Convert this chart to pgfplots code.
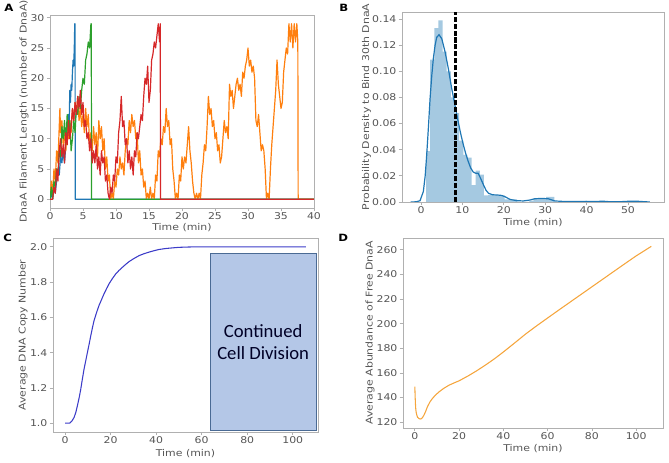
\documentclass[border=0pt]{standalone}
\usepackage{pgfplots}
\pgfplotsset{compat=1.18}
\usepackage{fontspec}
\setmainfont{DejaVu Sans}[FakeStretch=1.17]
\newfontfamily\carlito{Carlito}
\definecolor{tabblue}{HTML}{1F77B4}
\definecolor{taborange}{HTML}{FF7F0E}
\definecolor{tabgreen}{HTML}{2CA02C}
\definecolor{tabred}{HTML}{D62728}
\definecolor{histc}{HTML}{A5C9E1}
\definecolor{spinegray}{HTML}{B0B0B0}
\definecolor{labgray}{HTML}{555555}
\definecolor{boxfill}{HTML}{B4C7E7}
\definecolor{boxedge}{HTML}{4A6A94}
\definecolor{cblue}{HTML}{3C3CC8}
\definecolor{dorange}{HTML}{F5A53C}
\pgfplotsset{refstyle/.style={scale only axis,
  axis line style={spinegray, line width=0.7pt},
  tick style={spinegray, line width=0.6pt},
  tick align=outside, major tick length=2.5pt,
  xtick pos=bottom, ytick pos=left,
  ticklabel style={font=\fontsize{7}{8.5}\selectfont, text=labgray},
  xticklabel style={inner sep=1pt},
  yticklabel style={inner sep=1.5pt},
  label style={font=\fontsize{7}{8.5}\selectfont, text=labgray, inner sep=1pt},
  /pgf/number format/assume math mode=true,
  scaled ticks=false}}
\begin{document}
\begin{tikzpicture}
\path[use as bounding box] (0,0) rectangle (501.75pt,347.25pt);
% ---------------- A ----------------
\begin{axis}[refstyle, at={(37.5pt,191.25pt)}, anchor=south west,
  width=198pt, height=144.75pt,
  xmin=0, xmax=40, ymin=-1.45, ymax=30.45,
  xtick={0,5,...,40}, ytick={0,5,...,30},
  xlabel={Time (min)}, ylabel={DnaA Filament Length (number of DnaA)},
  xlabel style={at={(axis description cs:0.5,-0.119)}, anchor=base},
  ylabel style={at={(axis description cs:-0.098,0.5)}, anchor=center},
  every axis plot/.append style={line width=0.9pt, line join=round}]
\addplot[tabblue] coordinates {(0,0)(0.2,1)(0.4,0)(0.6,2)(0.8,1)(1.0,3)(1.2,5)(1.4,4)(1.6,7)(1.8,6)(2.0,8)(2.2,6)(2.4,9)(2.6,11)(2.8,14)(2.9,12)(3.0,18)(3.1,16)(3.2,19)(3.3,18)(3.4,21)(3.5,23)(3.6,22)(3.7,26)(3.75,29)(3.8,29)(3.82,0)(40,0)};
\addplot[taborange] coordinates {(0,0)(0.2,3)(0.4,1)(0.6,5)(0.8,3)(1.0,8)(1.2,6)(1.4,12)(1.5,15)(1.6,11)(1.8,13)(2.0,9)(2.2,11)(2.4,8)(2.6,12)(2.8,10)(3.0,13)(3.2,11)(3.4,15)(3.6,13)(3.8,16)(4.0,14)(4.2,17)(4.4,13)(4.6,15)(4.8,12)(5.0,14)(5.2,11)(5.4,15)(5.6,12)(5.8,14)(6.0,9)(6.2,11)(6.4,8)(6.6,12)(6.8,9)(7.0,11)(7.2,7)(7.4,13)(7.6,10)(7.8,12)(8.0,8)(8.2,10)(8.4,5)(8.6,7)(8.8,3)(9.0,4)(9.2,0)(9.4,1)(9.6,0)(9.8,3)(10.0,2)(10.2,5)(10.4,4)(10.6,7)(10.8,5)(11.0,6)(11.2,4)(11.4,8)(11.6,10)(11.8,9)(12.0,13)(12.2,11)(12.4,14)(12.6,12)(12.8,13)(13.0,10)(13.2,11)(13.4,6)(13.6,8)(13.8,4)(14.0,5)(14.2,2)(14.4,3)(14.6,0)(14.8,1)(15.0,0)(15.2,2)(15.4,0)(15.6,1)(15.8,0)(16.0,4)(16.2,3)(16.4,8)(16.6,7)(16.8,10)(17.0,9)(17.2,12)(17.4,11)(17.6,15)(17.8,12)(18.0,13)(18.2,9)(18.4,10)(18.6,5)(18.8,3)(19.0,0)(19.2,1)(19.4,0)(19.6,4)(19.8,3)(20.0,7)(20.2,5)(20.4,7)(20.6,6)(20.8,9)(21.0,12)(21.2,8)(21.4,6)(21.6,3)(21.8,1)(22.0,0)(22.2,1)(22.4,0)(22.6,1)(22.8,0)(23.0,4)(23.2,6)(23.4,9)(23.6,8)(23.8,12)(24.0,17)(24.2,14)(24.4,15)(24.6,12)(24.8,13)(25.0,10)(25.2,11)(25.4,8)(25.6,9)(25.8,6)(26.0,7)(26.2,10)(26.4,13)(26.6,11)(26.8,12)(27.0,10)(27.2,19)(27.4,17)(27.6,18)(27.8,15)(28.0,17)(28.2,19)(28.4,20)(28.6,18)(28.8,19)(29.0,17)(29.2,21)(29.4,20)(29.6,22)(29.8,23)(30.0,25)(30.2,22)(30.4,23)(30.6,21)(30.8,22)(31.0,20)(31.2,13)(31.4,12)(31.6,14)(31.8,11)(32.0,8)(32.2,9)(32.4,8)(32.6,5)(32.8,0)(33.0,1)(33.2,0)(33.4,5)(33.6,9)(33.8,12)(34.0,15)(34.2,18)(34.4,23)(34.6,19)(34.8,17)(35.0,15)(35.2,16)(35.4,21)(35.6,23)(35.8,25)(36.0,24)(36.2,29)(36.4,26)(36.6,29)(36.8,25)(37.0,29)(37.2,26)(37.4,29)(37.55,26)(37.6,0)(40,0)};
\addplot[tabgreen] coordinates {(0,0)(0.2,2)(0.4,0)(0.6,3)(0.8,2)(1.0,5)(1.2,4)(1.4,8)(1.6,7)(1.8,12)(2.0,10)(2.2,13)(2.4,9)(2.6,14)(2.8,11)(3.0,13)(3.2,8)(3.4,10)(3.6,13)(3.8,11)(4.0,15)(4.2,14)(4.4,17)(4.6,15)(4.8,18)(5.0,20)(5.2,19)(5.4,23)(5.6,24)(5.8,26)(6.0,25)(6.2,29)(6.25,29)(6.3,0)(40,0)};
\addplot[tabred] coordinates {(0,0)(0.4,0)(0.6,2)(0.8,1)(1.0,5)(1.2,3)(1.4,8)(1.6,10)(1.8,7)(2.0,9)(2.2,6)(2.4,11)(2.6,9)(2.8,13)(3.0,10)(3.2,12)(3.4,15)(3.6,13)(3.8,16)(4.0,14)(4.2,17)(4.4,15)(4.6,18)(4.8,14)(5.0,16)(5.2,12)(5.4,13)(5.6,10)(5.8,11)(6.0,8)(6.2,10)(6.4,6)(6.6,8)(6.8,6)(7.0,9)(7.2,5)(7.4,7)(7.6,4)(7.8,8)(8.0,6)(8.2,7)(8.4,3)(8.6,4)(8.8,1)(9.0,0)(9.2,2)(9.4,1)(9.6,4)(9.8,3)(10.0,7)(10.2,6)(10.4,11)(10.6,13)(10.8,17)(11.0,12)(11.2,13)(11.4,9)(11.6,10)(11.8,6)(12.0,8)(12.2,5)(12.4,7)(12.6,4)(12.8,8)(13.0,7)(13.2,11)(13.4,10)(13.6,12)(13.8,14)(14.0,13)(14.2,17)(14.4,20)(14.6,19)(14.8,22)(15.0,16)(15.2,18)(15.4,23)(15.6,24)(15.8,26)(16.0,25)(16.2,27)(16.4,29)(16.6,26)(16.7,29)(16.75,0)(40,0)};
\end{axis}
% ---------------- B ----------------
\begin{axis}[refstyle, at={(301.5pt,195.75pt)}, anchor=south west,
  width=196.5pt, height=142.5pt,
  xmin=-4.6, xmax=58.7, ymin=0, ymax=0.1454,
  xtick={0,10,...,50}, ytick={0,0.02,...,0.14},
  yticklabel style={/pgf/number format/.cd, fixed, fixed zerofill, precision=2},
  xlabel={Time (min)}, ylabel={Probability Density to Bind 30th DnaA},
  xlabel style={at={(axis description cs:0.5,-0.126)}, anchor=base},
  ylabel style={at={(axis description cs:-0.135,0.5)}, anchor=center}]
\addplot[ybar interval, fill=histc, draw=none] coordinates {(1.2,0.039)(2.2,0.109)(3.2,0.133)(4.2,0.139)(5.2,0.115)(6.2,0.100)(7.2,0.080)(8.2,0.068)(9.2,0.047)(10.2,0.036)(11.2,0.034)(12.2,0.013)(13.2,0.024)(14.2,0.021)(15.2,0.005)(16.2,0.0055)(17.2,0.0055)(18.2,0.005)(19.2,0.005)(20.2,0.002)(21.2,0.0015)(22.2,0.002)(23.2,0)(26.2,0.001)(27.2,0.003)(28.2,0.003)(29.2,0.003)(30.2,0.004)(31.2,0.004)(32.2,0)};
\addplot[tabblue, line width=0.9pt] coordinates {(-2.5,0)(-1.8,0)(-1,0.0003)(-0.24,0.001)(0.56,0.008)(1.0,0.02)(1.37,0.036)(1.8,0.058)(2.18,0.079)(2.6,0.097)(2.98,0.110)(3.4,0.120)(3.79,0.126)(4.35,0.128)(5.0,0.125)(5.8,0.115)(6.6,0.102)(7.4,0.087)(8.2,0.074)(9.0,0.061)(9.6,0.052)(10.2,0.044)(10.8,0.037)(11.4,0.031)(12.0,0.026)(12.6,0.023)(13.2,0.022)(13.8,0.022)(14.4,0.018)(15.1,0.013)(15.7,0.009)(16.3,0.0067)(17.3,0.0055)(18.3,0.0054)(19.5,0.005)(20.3,0.004)(21.5,0.002)(23.1,0.001)(24.7,0.0008)(26.3,0.0015)(27.5,0.0025)(29,0.0027)(30.7,0.0025)(32.3,0.0008)(35.1,0.0003)(38,0.0003)(39.9,0.0005)(41.5,0.0003)(44,0.0006)(45.6,0.0002)(48,0.0002)(50.5,0.0006)(52.1,0.0006)(54,0.0002)(55.3,0)};
\addplot[black, line width=1.8pt, dash pattern=on 3.8pt off 1.4pt] coordinates {(8.3,0)(8.3,0.1454)};
\end{axis}
% ---------------- C ----------------
\begin{axis}[refstyle, at={(39.75pt,23.25pt)}, anchor=south west,
  width=198.75pt, height=145.5pt,
  xmin=-5.3, xmax=111.1, ymin=0.95, ymax=2.05,
  xtick={0,20,...,100}, ytick={1.0,1.2,...,2.0},
  yticklabel style={/pgf/number format/.cd, fixed, fixed zerofill, precision=1},
  xlabel={Time (min)}, ylabel={Average DNA Copy Number},
  xlabel style={at={(axis description cs:0.5,-0.124)}, anchor=base},
  ylabel style={at={(axis description cs:-0.113,0.5)}, anchor=center}]
\addplot[cblue, line width=0.8pt] coordinates {(0,1.0)(1,1.0)(2.05,1.0)(3,1.012)(3.95,1.032)(4.7,1.06)(5.4,1.098)(6.2,1.145)(6.9,1.193)(7.6,1.25)(8.35,1.307)(9.1,1.355)(9.8,1.40)(10.6,1.45)(11.3,1.496)(12,1.54)(12.7,1.58)(13.8,1.626)(14.9,1.667)(16,1.70)(17.1,1.733)(18.2,1.762)(19.3,1.79)(20.8,1.82)(22.3,1.847)(23.7,1.866)(25.2,1.884)(26.6,1.90)(28.1,1.916)(30.3,1.934)(32.5,1.95)(34.7,1.961)(36.9,1.97)(39.1,1.978)(41.3,1.985)(44,1.99)(47.2,1.994)(50,1.997)(54.5,1.999)(60,2.0)(80,2.0)(105.8,2.0)};
\filldraw[fill=boxfill, draw=boxedge, line width=0.8pt] (axis cs:63.7,0.956) rectangle (axis cs:110.3,1.962);
\node[font=\carlito\fontsize{14}{16.3}\selectfont, align=center, text=black!85!blue] at (axis cs:87,1.46) {Continued\\Cell Division};
\end{axis}
% ---------------- D ----------------
\begin{axis}[refstyle, at={(302.25pt,26.25pt)}, anchor=south west,
  width=195pt, height=142.5pt,
  xmin=-5.35, xmax=112.1, ymin=115.3, ymax=269.5,
  xtick={0,20,...,100}, ytick={120,140,...,260},
  xlabel={Time (min)}, ylabel={Average Abundance of Free DnaA},
  xlabel style={at={(axis description cs:0.5,-0.124)}, anchor=base},
  ylabel style={at={(axis description cs:-0.127,0.5)}, anchor=center}]
\addplot[dorange, line width=0.8pt] coordinates {(0,148.8)(0.15,140)(0.3,134)(0.45,130)(0.7,127)(1.2,124)(2.0,122.8)(2.7,122.6)(3.4,123.6)(4.2,126)(5.0,129.3)(5.7,132.6)(6.8,136.4)(8.0,139.4)(9.5,142.3)(11,144.7)(13,147.4)(15.5,150.1)(18,152.1)(20,153.6)(24,157.5)(28,161.8)(32,166.5)(36,171.5)(40,177)(45,184.2)(50,191.5)(55,198.2)(60,204.6)(65,211)(70,217.3)(75,223.6)(80,229.9)(85,236.2)(90,242.5)(95,248.8)(100,255)(106.8,262.7)};
\end{axis}
% panel letters
\node[anchor=north west, inner sep=0pt, font=\bfseries\fontsize{7.5}{9}\selectfont] at (3pt,344.5pt) {A};
\node[anchor=north west, inner sep=0pt, font=\bfseries\fontsize{7.5}{9}\selectfont] at (254.25pt,344.5pt) {B};
\node[anchor=north west, inner sep=0pt, font=\bfseries\fontsize{7.5}{9}\selectfont] at (2.25pt,172pt) {C};
\node[anchor=north west, inner sep=0pt, font=\bfseries\fontsize{7.5}{9}\selectfont] at (253.5pt,172pt) {D};
\end{tikzpicture}
\end{document}
